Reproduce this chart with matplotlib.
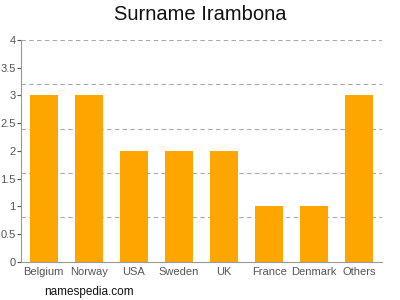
import matplotlib
matplotlib.use("Agg")
import matplotlib.pyplot as plt
import numpy as np

plt.rcParams['font.family'] = ['Liberation Sans', 'DejaVu Sans']

paises = ["Belgium", "Norway", "USA", "Sweden", "UK", "France", "Denmark", "Others"]
cantidad = [3, 3, 2, 2, 2, 1, 1, 3]
yticks = [0, 0.5, 1, 1.5, 2, 2.5, 3, 3.5, 4]
ytick_labels = ["0", "0.5", "1", "1.5", "2", "2.5", "3", "3.5", "4"]
grid_y = [0.8, 1.6, 2.4, 3.2, 4.0]

fig = plt.figure(figsize=(4, 3), dpi=100)
ax = fig.add_axes([0.0525, 0.127, 0.9025, 0.74])

x = np.arange(len(paises))
for g in grid_y:
    ax.axhline(g, color='#aaaaaa', linestyle=(0, (4, 3)), linewidth=0.8, zorder=0)
ax.bar(x, cantidad, width=0.62, color='#ffa500', zorder=2)

ax.set_xlim(-0.5, len(paises) - 0.5)
ax.set_ylim(0, 4)
ax.set_yticks(yticks)
ax.set_yticklabels(ytick_labels)
ax.set_xticks(x)
ax.set_xticklabels(paises)
ax.tick_params(axis='y', colors='#555555', labelsize=8, length=3, width=0.8, direction='out', pad=0.8)
ax.tick_params(axis='x', colors='#555555', labelsize=8, length=0, pad=4)
for lbl in ax.get_yticklabels() + ax.get_xticklabels():
    lbl.set_color('#555555')

for s in ['top', 'right']:
    ax.spines[s].set_visible(False)
ax.spines['left'].set_color('#999999')
ax.spines['bottom'].set_color('#999999')
ax.spines['left'].set_linewidth(0.8)
ax.spines['bottom'].set_linewidth(0.8)

fig.text(0.5, 0.95, "Surname Irambona", ha='center', va='center', fontsize=14.5, color='#111111')
fig.text(0.11, 0.028, "namespedia.com", ha='left', va='center', fontsize=8.5, color='#111111')

fig.savefig("out.png", dpi=100)
